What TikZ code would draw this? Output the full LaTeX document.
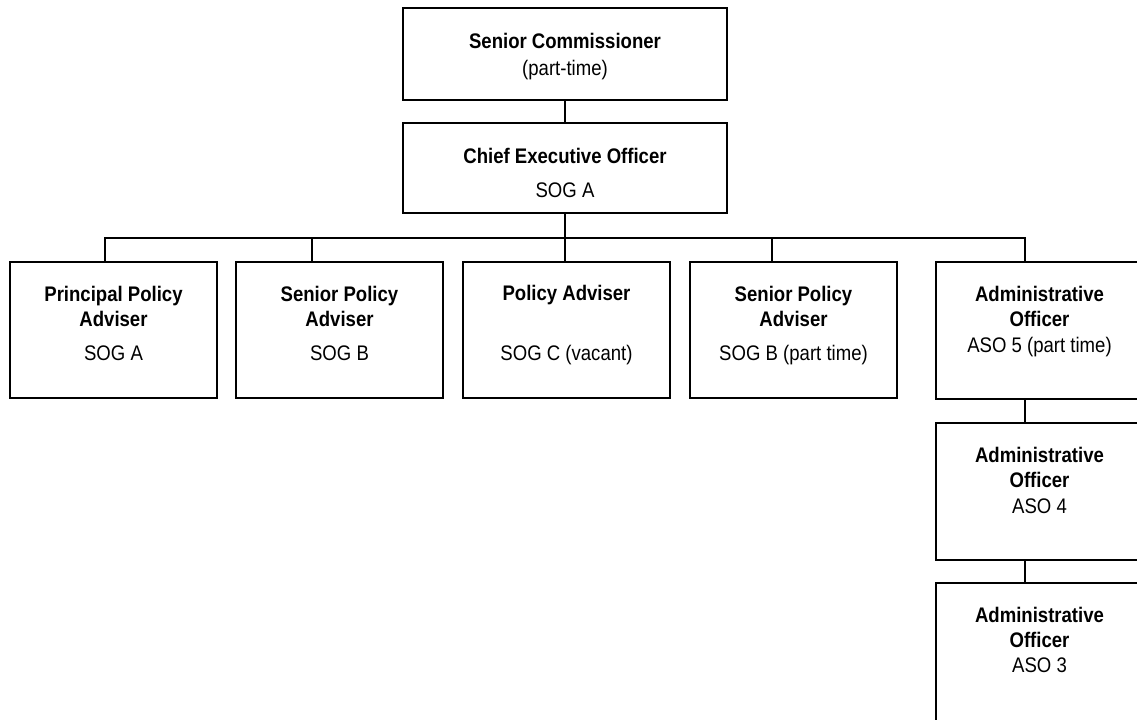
\documentclass[tikz,border=0pt]{standalone}
\usepackage{fontspec}
\setmainfont{Liberation Sans}[FakeStretch=0.88]
\usepackage{tikz}
\usetikzlibrary{calc}
\definecolor{BoxLine}{HTML}{000000}
\newcommand{\chartfont}{\fontsize{15}{17.8}\selectfont}
\tikzset{
  topbox/.style={draw=BoxLine, line width=1.3pt, fill=white, align=center, minimum width=8.1cm, minimum height=2.3cm, inner sep=0pt, font=\chartfont, text height=29.9pt, text depth=0pt},
  postbox/.style={draw=BoxLine, line width=1.3pt, fill=white, align=center, minimum width=5.175cm, minimum height=3.4cm, inner sep=0pt, font=\chartfont, text height=42.7pt, text depth=0pt},
  adminbox/.style={draw=BoxLine, line width=1.3pt, fill=white, align=center, minimum width=5.175cm, minimum height=3.425cm, inner sep=0pt, font=\chartfont, text height=30.6pt, text depth=0pt},
  link/.style={draw=BoxLine, line width=1.3pt}
}

\begin{document}
\begin{tikzpicture}[x=0.025cm, y=-0.025cm]
\useasboundingbox (0,0) rectangle (1137,720);
\clip (0,0) rectangle (1137,720);
% top of the chart
\node[topbox] (sc) at (565,54) {\textbf{Senior Commissioner}\\[1.4pt](part-time)};
\node[topbox, minimum height=2.25cm, text height=41.3pt] (ceo) at (565,168) {\textbf{Chief Executive Officer}\\[6.4pt]SOG A};
% policy and admin posts
\node[postbox] (ppa) at (113.5,330) {\textbf{Principal Policy}\\\textbf{Adviser}\\[6pt]SOG A};
\node[postbox] (spa) at (339.5,330) {\textbf{Senior Policy}\\\textbf{Adviser}\\[6pt]SOG B};
\node[postbox] (pa) at (566.5,330) {\textbf{Policy Adviser}\\[24.2pt]SOG C (vacant)};
\node[postbox] (spb) at (793.5,330) {\textbf{Senior Policy}\\\textbf{Adviser}\\[6pt]SOG B (part time)};
\node[adminbox] (ao5) at (1039.5,330.5) {\textbf{Administrative}\\\textbf{Officer}\\ASO 5 (part time)};
\node[adminbox] (ao4) at (1039.5,491.5) {\textbf{Administrative}\\\textbf{Officer}\\ASO 4};
\node[adminbox, minimum height=3.525cm, text height=27.7pt] (ao3) at (1039.5,653.5) {\textbf{Administrative}\\\textbf{Officer}\\ASO 3};
% connectors
\coordinate (bus) at (565,238);
\draw[link] (sc) -- (ceo);
\draw[link] (ceo.south) -- (bus);
\draw[link] ($(ppa.north)+(-8.5,0)$) |- (bus);
\draw[link] ($(spa.north)+(-27.5,0)$) |- (bus);
\draw[link] ($(pa.north)+(-1.5,0)$) |- (bus);
\draw[link] ($(spb.north)+(-21.5,0)$) |- (bus);
\draw[link] ($(ao5.north)+(-14.5,0)$) |- (bus);
\draw[link] ($(ao5.south)+(-14.5,0)$) -- ($(ao4.north)+(-14.5,0)$);
\draw[link] ($(ao4.south)+(-14.5,0)$) -- ($(ao3.north)+(-14.5,0)$);
\end{tikzpicture}
\end{document}
